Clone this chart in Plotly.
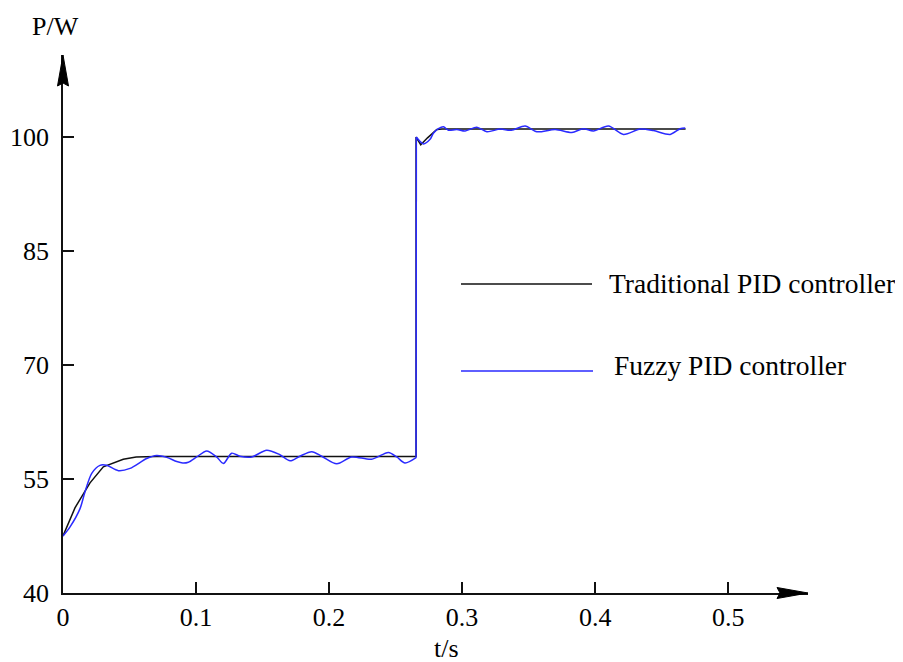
import plotly.graph_objects as go

# Traditional PID controller
trad_t = [0, 0.009, 0.0203, 0.0303, 0.0453, 0.055, 0.07, 0.2654, 0.2654, 0.2689,
          0.2740, 0.2810, 0.2850, 0.4680]
trad_p = [47.5, 51.2, 54.5, 56.6, 57.6, 57.9, 57.95, 57.95, 100.0, 99.0,
          99.9, 101.0, 101.05, 101.05]

# Fuzzy PID controller: before the step
fuzzy_low_t = [0, 0.0053, 0.0128, 0.0165, 0.0216, 0.0278, 0.0328, 0.0416, 0.0504, 0.0629,
               0.0704, 0.078, 0.0855, 0.09, 0.0942, 0.1005, 0.108, 0.1155, 0.1206, 0.1268,
               0.133, 0.1419, 0.1531, 0.163, 0.1707, 0.178, 0.187, 0.1945, 0.2058, 0.217,
               0.232, 0.2446, 0.2509, 0.2571, 0.2654]
fuzzy_low_p = [47.5, 48.7, 51.1, 53.3, 55.75, 56.8, 56.8, 56.1, 56.4, 57.7,
               58.1, 57.85, 57.3, 57.1, 57.2, 57.9, 58.7, 57.9, 57.05, 58.4,
               58.0, 57.9, 58.8, 58.2, 57.4, 58.0, 58.6, 58.0, 57.0, 57.9,
               57.6, 58.5, 57.9, 57.1, 57.8]
# Fuzzy PID controller: after the step
fuzzy_high_t = [0.2656, 0.2709, 0.2759, 0.2784, 0.2822, 0.2860, 0.2897, 0.2960, 0.3023, 0.311,
                0.3186, 0.3286, 0.337, 0.3474, 0.3561, 0.370, 0.3825, 0.391, 0.3987, 0.410,
                0.4213, 0.4338, 0.4438, 0.4564, 0.4639, 0.4677]
fuzzy_high_p = [100.0, 99.1, 99.7, 100.5, 101.1, 101.35, 100.9, 101.0, 100.8, 101.3,
                100.7, 101.05, 100.9, 101.45, 100.7, 101.0, 100.6, 101.1, 100.8, 101.45,
                100.35, 101.05, 100.85, 100.35, 101.1, 101.2]

x_ticks = [0, 0.1, 0.2, 0.3, 0.4, 0.5]
x_labels = ["0", "0.1", "0.2", "0.3", "0.4", "0.5"]
y_ticks = [40, 55, 70, 85, 100]
y_labels = ["40", "55", "70", "85", "100"]

legend_names = ["Traditional PID controller", "Fuzzy PID controller"]

FONT = "Liberation Serif, Times New Roman, serif"
BLACK = "#111111"
BLUE = "#2a2aff"

fig = go.Figure()
fig.add_trace(go.Scatter(x=trad_t, y=trad_p, mode="lines",
                         line=dict(color=BLACK, width=1.5), name=legend_names[0]))
fig.add_trace(go.Scatter(x=fuzzy_low_t, y=fuzzy_low_p, mode="lines",
                         line=dict(color=BLUE, width=1.5, shape="spline", smoothing=0.8),
                         name=legend_names[1]))
fig.add_trace(go.Scatter(x=[fuzzy_low_t[-1], fuzzy_high_t[0]],
                         y=[fuzzy_low_p[-1], fuzzy_high_p[0]], mode="lines",
                         line=dict(color=BLUE, width=1.5), showlegend=False))
fig.add_trace(go.Scatter(x=fuzzy_high_t, y=fuzzy_high_p, mode="lines",
                         line=dict(color=BLUE, width=1.5, shape="spline", smoothing=0.8),
                         showlegend=False))

# page body has an 8px margin; reference pixel coordinates are offset accordingly
OFF = 8
FIG_W, FIG_H = 903 - OFF, 662 - OFF
# plot area in reference pixels: x 63..808, y 55..593
L, R, T, B = 63, 808, 55, 593
W, H = R - L, B - T

def px(xp):
    return (xp - L) / W

def py(yp):
    return (B - yp) / H

shapes = []
# x arrow head
shapes.append(dict(type="path", xref="paper", yref="paper",
                   path=f"M {px(808)},{py(593)} L {px(777)},{py(587.5)} L {px(780)},{py(593)} L {px(777)},{py(598.5)} Z",
                   fillcolor="black", line=dict(color="black", width=1)))
# y arrow head
shapes.append(dict(type="path", xref="paper", yref="paper",
                   path=f"M {px(63)},{py(55)} L {px(57.5)},{py(86)} L {px(63)},{py(83)} L {px(68.5)},{py(86)} Z",
                   fillcolor="black", line=dict(color="black", width=1)))
# legend sample lines
shapes.append(dict(type="line", xref="paper", yref="paper",
                   x0=px(461), x1=px(592), y0=py(284), y1=py(284),
                   line=dict(color=BLACK, width=1.3)))
shapes.append(dict(type="line", xref="paper", yref="paper",
                   x0=px(461), x1=px(593), y0=py(371), y1=py(371),
                   line=dict(color=BLUE, width=1.3)))

annotations = [
    dict(text=legend_names[0], x=px(607), y=py(283), xref="paper", yref="paper",
         xanchor="left", yanchor="middle", showarrow=False,
         font=dict(family=FONT, size=27.5, color="black")),
    dict(text=legend_names[1], x=px(612), y=py(366), xref="paper", yref="paper",
         xanchor="left", yanchor="middle", showarrow=False,
         font=dict(family=FONT, size=27.5, color="black")),
    dict(text="P/W", x=px(55), y=py(26), xref="paper", yref="paper",
         xanchor="center", yanchor="middle", showarrow=False,
         font=dict(family=FONT, size=26, color="black")),
    dict(text="t/s", x=px(446), y=py(649), xref="paper", yref="paper",
         xanchor="center", yanchor="middle", showarrow=False,
         font=dict(family=FONT, size=26, color="black")),
]

fig.update_layout(
    width=FIG_W, height=FIG_H,
    margin=dict(l=L - OFF, r=FIG_W - (R - OFF), t=T - OFF, b=FIG_H - (B - OFF)),
    paper_bgcolor="white", plot_bgcolor="white",
    showlegend=False,
    shapes=shapes, annotations=annotations,
    font=dict(family=FONT, size=26, color="black"),
    xaxis=dict(range=[0, 0.56], tickvals=x_ticks, ticktext=x_labels,
               showgrid=False, zeroline=False, showline=True, linecolor=BLACK, linewidth=1.5,
               ticks="inside", ticklen=11, tickwidth=1.5, tickcolor=BLACK,
               ticklabelstandoff=0, automargin=False,
               tickfont=dict(family=FONT, size=26, color="black")),
    yaxis=dict(range=[40, 110.8], tickvals=y_ticks, ticktext=y_labels,
               showgrid=False, zeroline=False, showline=True, linecolor=BLACK, linewidth=1.5,
               ticks="inside", ticklen=11, tickwidth=1.5, tickcolor=BLACK,
               ticklabelstandoff=7, automargin=False,
               tickfont=dict(family=FONT, size=26, color="black")),
)

fig.write_html("out.html")
